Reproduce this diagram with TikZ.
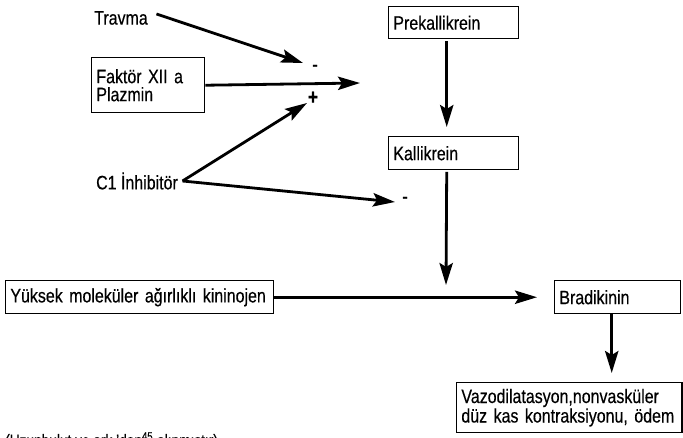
\documentclass[tikz,border=0pt]{standalone}
\usepackage{fontspec}
\setmainfont{Liberation Sans}[FakeStretch=0.82,FakeBold=0.4]
\usetikzlibrary{arrows.meta}
\begin{document}
\begin{tikzpicture}[x=0.75pt,y=-0.75pt,
  every node/.style={font=\fontsize{14.6}{13.5}\selectfont},
  box/.style={draw, line width=1.1pt, anchor=north west, inner xsep=3.5pt, inner ysep=0pt, align=left},
  arr/.style={line width=2.1pt, -{Stealth[length=16.5pt,width=10pt,inset=3pt]}},
  sign/.style={inner sep=0pt, font=\fontsize{15}{14}\selectfont}]
\useasboundingbox (0,0) rectangle (683,438);

% boxes of the kallikrein-kinin cascade
\node[box, text width=90.5pt, minimum height=24pt] (prek) at (388,6) {\mbox{Prekallikrein}};
\node[box, text width=90.5pt, minimum height=24.75pt] (kal) at (388,136) {\mbox{Kallikrein}};
\node[box, text width=77.75pt, minimum height=41.25pt] (fak) at (91,57) {\mbox{Faktör XII a}\\\mbox{Plazmin}};
\node[box, text width=194pt, minimum height=24.75pt] (yuk) at (5,280) {\mbox{Yüksek moleküler ağırlıklı kininojen}};
\node[box, text width=87.5pt, minimum height=24.75pt] (brad) at (554,280) {\mbox{Bradikinin}};
\node[box, text width=162pt, minimum height=37.5pt] (vazo) at (456,382) {\mbox{Vazodilatasyon,nonvasküler}\\\mbox{düz kas kontraksiyonu, ödem}};

% free labels
\node (trav) at (121,18) {Travma};
\node (c1) at (137,181) {C1 İnhibitör};

% signs at the arrow tips
\node[sign] (m1) at (315,68) {-};
\node[sign, font=\fontsize{16}{14}\selectfont\bfseries] (p1) at (313,98) {+};
\node[sign] (m2) at (405,200) {-};

% free ends of the arrows
\coordinate (tm) at (303,63);
\coordinate (conv) at (360,83);
\coordinate (tp) at (307,103);
\coordinate (tm2) at (395,202);
\coordinate (kin) at (446,285);
\coordinate (bs) at ([xshift=-4.5pt]brad.south);

% connectors
\draw[arr] ([shift={(3pt,3pt)}]trav.east) -- (tm);
\draw[arr] (fak.east) -- (conv);
\draw[arr] (c1.east) -- (tp);
\draw[arr] (c1.east) -- (tm2);
\draw[arr, shorten <=1.5pt, shorten >=6.75pt] ([xshift=-5.25pt]prek.south) -- ([xshift=-5.25pt]kal.north);
\draw[arr, shorten <=1pt] ([xshift=-5.25pt]kal.south) -- (kin);
\draw[arr, shorten >=12.75pt] (yuk.east) -- (brad.west);
\draw[arr, shorten >=6.75pt] (bs) -- (bs |- vazo.north);

% source line
\node[anchor=north west, inner sep=0pt, font=\fontsize{12.5}{13}\selectfont] (src) at (5,432) {(Uzunbulut ve ark.'dan\textsuperscript{45} alınmıştır)};
\end{tikzpicture}
\end{document}
